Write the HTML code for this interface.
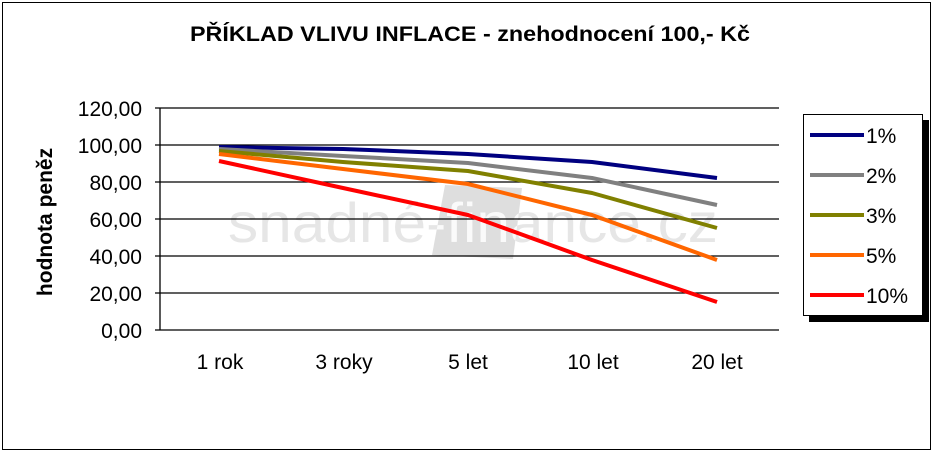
<!DOCTYPE html><html><head><style>body{margin:0;background:#fff}svg text{font-family:"Liberation Sans",Arial,sans-serif}</style></head><body>
<svg width="937" height="453" xmlns="http://www.w3.org/2000/svg">
<defs><clipPath id="bx"><polygon points="445,185 522,188 513,259 432,255"/></clipPath></defs>
<rect x="2.5" y="2.5" width="928" height="447" fill="#fff" stroke="#000" stroke-width="1"/>
<text x="470" y="41" text-anchor="middle" font-size="21" font-weight="bold" textLength="560" lengthAdjust="spacingAndGlyphs">PŘÍKLAD VLIVU INFLACE - znehodnocení 100,-  Kč</text>
<polygon points="445,185 522,188 513,259 432,255" fill="#dedede"/>
<text x="228" y="242" font-size="56" fill="#e6e6e6" textLength="490" lengthAdjust="spacingAndGlyphs">snadné-finance.cz</text>
<text x="228" y="242" font-size="56" fill="#fafafa" textLength="490" lengthAdjust="spacingAndGlyphs" clip-path="url(#bx)">snadné-finance.cz</text>
<g stroke="#000" stroke-width="1.3">
<line x1="155" y1="108" x2="779" y2="108"/><line x1="155" y1="145" x2="779" y2="145"/><line x1="155" y1="182" x2="779" y2="182"/><line x1="155" y1="219" x2="779" y2="219"/><line x1="155" y1="256" x2="779" y2="256"/><line x1="155" y1="293" x2="779" y2="293"/><line x1="155" y1="330" x2="779" y2="330"/>
<line x1="160" y1="108" x2="160" y2="330"/>
</g>
<g font-size="21" text-anchor="end">
<text x="142" y="116">120,00</text><text x="142" y="153">100,00</text><text x="142" y="190">80,00</text><text x="142" y="227">60,00</text><text x="142" y="264">40,00</text><text x="142" y="301">20,00</text><text x="142" y="338">0,00</text>
</g>
<text transform="translate(52,222) rotate(-90)" text-anchor="middle" font-size="21" font-weight="bold">hodnota peněz</text>
<g font-size="21" text-anchor="middle">
<text x="220" y="369">1 rok</text><text x="344" y="369">3 roky</text><text x="468" y="369">5 let</text><text x="593" y="369">10 let</text><text x="717" y="369">20 let</text>
</g>
<g fill="none" stroke-width="4" stroke-linejoin="round">
<polyline stroke="#000080" points="219,147 343,149 468,154 592,162 717,178"/>
<polyline stroke="#808080" points="219,149 343,156 468,163 592,178 717,205"/>
<polyline stroke="#808000" points="219,151 343,162 468,171 592,193 717,228"/>
<polyline stroke="#ff6600" points="219,154 343,169 468,184 592,215 717,260"/>
<polyline stroke="#ff0000" points="219,161 343,188 468,215 592,260 717,302"/>
</g>
<rect x="809" y="120" width="120" height="202" fill="#000"/>
<rect x="803.5" y="114.5" width="119" height="201" fill="#fff" stroke="#000"/>
<g stroke-width="4">
<line x1="810" y1="135" x2="864" y2="135" stroke="#000080"/>
<line x1="810" y1="175" x2="864" y2="175" stroke="#808080"/>
<line x1="810" y1="215" x2="864" y2="215" stroke="#808000"/>
<line x1="810" y1="255" x2="864" y2="255" stroke="#ff6600"/>
<line x1="810" y1="295" x2="864" y2="295" stroke="#ff0000"/>
</g>
<g font-size="21">
<text x="866" y="143">1%</text><text x="866" y="183">2%</text><text x="866" y="223">3%</text><text x="866" y="263">5%</text><text x="866" y="303">10%</text>
</g>
</svg></body></html>
